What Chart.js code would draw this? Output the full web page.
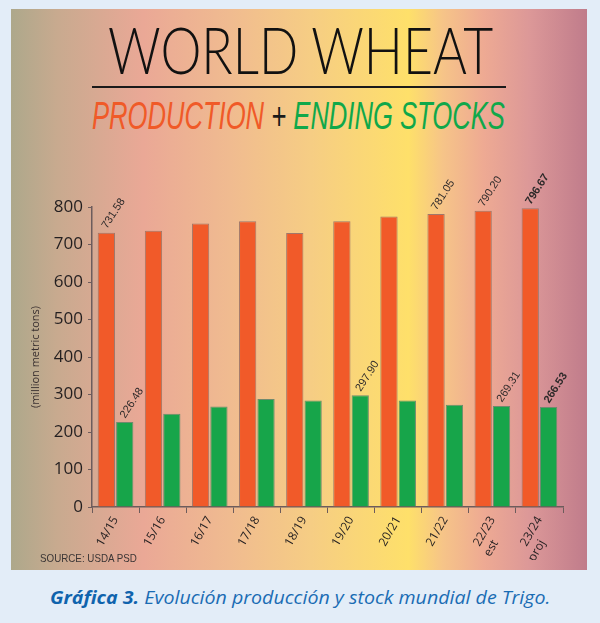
<!DOCTYPE html>
<html>
<head>
<meta charset="utf-8">
<script src="https://cdn.jsdelivr.net/npm/chart.js@4.4.0/dist/chart.umd.min.js"></script>
<style>
  html, body { margin: 0; padding: 0; }
  body { width: 600px; height: 623px; background: #e3edf8; position: relative; overflow: hidden; }
  #panel {
    position: absolute; left: 11px; top: 9px; width: 576px; height: 561px;
    background: linear-gradient(to right, #ada88b 0%, #c8aa8f 8%, #eaa896 23%, #f0bb90 38%,
      #f6cd84 52%, #fee06a 69%, #f6c488 75%, #eeaa93 82%, #dc9898 90%, #c07c8b 100%);
  }
  .fit { position: absolute; white-space: nowrap; line-height: 1; display: inline-block; transform-origin: left top; }
  #title { left: 108px; top: 16px; font-family: Lato, "Open Sans", sans-serif; font-weight: 300; font-size: 66px; color: #111; }
  #rule { position: absolute; left: 92px; top: 86px; width: 414px; height: 2px; background: #1a1a1a; }
  #subtitle { left: 92px; top: 97px; font-family: "Liberation Sans Narrow", "Liberation Sans", Arial, sans-serif; font-style: italic; font-size: 38px; }
  #subtitle .prod { color: #f05a28; }
  #subtitle .plus { color: #1a1a1a; }
  #subtitle .stock { color: #10a84a; }
  #chartBox { position: absolute; left: 11px; top: 140px; width: 576px; height: 420px; }
  #source { left: 40px; top: 553px; font-family: "Liberation Sans Narrow", "Liberation Sans", Arial, sans-serif; font-size: 11px; color: #3a3535; }
  #caption { left: 50px; top: 588px; font-family: "Open Sans", sans-serif; font-style: italic; font-size: 18px; color: #1a6cb4; }
  #caption b { font-weight: 700; color: #0f63ad; }
</style>
</head>
<body>
<div id="panel"></div>
<div id="title" class="fit">WORLD WHEAT</div>
<div id="rule"></div>
<div id="subtitle" class="fit"><span class="prod">PRODUCTION</span> <span class="plus">+</span> <span class="stock">ENDING STOCKS</span></div>
<div id="chartBox"><canvas id="wheatChart" width="576" height="420"></canvas></div>
<div id="source" class="fit">SOURCE: USDA PSD</div>
<div id="caption" class="fit"><b>Gráfica 3.</b> Evolución producción y stock mundial de Trigo.</div>

<script>
// marketing years (multi-line where the source has a note)
const seasons = [['14/15'], ['15/16'], ['16/17'], ['17/18'], ['18/19'], ['19/20'], ['20/21'], ['21/22'], ['22/23', 'est'], ['23/24', 'proj']];
const production = [731.58, 737, 756, 762, 731, 762, 775, 781.05, 790.20, 796.67];
const endingStocks = [226.48, 249, 268, 288, 284, 297.90, 284, 273, 269.31, 266.53];
const yTicks = [0, 100, 200, 300, 400, 500, 600, 700, 800];
// which bars carry a value label in the original
const productionLabelled = [0, 7, 8, 9];
const stocksLabelled = [0, 5, 8, 9];

// squeeze the html headings to the widths of the original artwork
function fitWidth(id, w) {
    const el = document.getElementById(id);
    const r = el.offsetWidth;
    el.style.transform = 'scaleX(' + (w / r) + ')';
}
fitWidth('title', 385);
fitWidth('subtitle', 413);
fitWidth('source', 97);
fitWidth('caption', 500);

// rotated value labels above selected bars
const valueLabels = {
    id: 'valueLabels',
    afterDatasetsDraw(chart) {
        const ctx = chart.ctx;
        const picks = [productionLabelled, stocksLabelled];
        picks.forEach((idxs, di) => {
            const meta = chart.getDatasetMeta(di);
            idxs.forEach(i => {
                const bar = meta.data[i];
                const v = chart.data.datasets[di].data[i];
                ctx.save();
                ctx.translate(bar.x - 2, bar.y - 5);
                ctx.rotate(-57 * Math.PI / 180);
                ctx.font = (i === 9 ? 'bold ' : '') + '11px "Liberation Sans", Arial, sans-serif';
                ctx.fillStyle = '#2e2a2a';
                ctx.textAlign = 'left';
                ctx.textBaseline = 'middle';
                ctx.fillText(v.toFixed(2), 0, 0);
                ctx.restore();
            });
        });
    }
};

const axisColor = '#6d5c5c';
const ctx = document.getElementById('wheatChart').getContext('2d');
const chart = new Chart(ctx, {
    type: 'bar',
    data: {
        labels: seasons,
        datasets: [{
            label: 'Production',
            data: production,
            backgroundColor: '#f15a29',
            borderColor: '#a0786a',
            borderWidth: 1,
            barPercentage: 0.94,
            categoryPercentage: 0.78
        }, {
            label: 'Ending stocks',
            data: endingStocks,
            backgroundColor: '#17a54a',
            borderColor: '#6f8a6e',
            borderWidth: 1,
            barPercentage: 0.94,
            categoryPercentage: 0.78
        }]
    },
    options: {
        responsive: false,
        animation: false,
        layout: {
            padding: { top: 67, right: 24, left: 0, bottom: 0 }
        },
        plugins: {
            legend: { display: false },
            tooltip: { enabled: false }
        },
        scales: {
            x: {
                afterFit: s => { s.height = 53; },
                grid: {
                    display: true,
                    drawOnChartArea: false,
                    tickLength: 6,
                    color: axisColor
                },
                border: { color: axisColor, width: 1.5 },
                ticks: {
                    minRotation: 60,
                    maxRotation: 60,
                    padding: 1,
                    color: '#231f20',
                    font: { family: '"Open Sans", sans-serif', size: 12 },
                    // keep the note line under the start of the season, as in the original
                    callback: function (value) {
                        const lab = this.getLabelForValue(value);
                        return lab.length > 1 ? [lab[0], lab[1] + '      '] : lab;
                    }
                }
            },
            y: {
                min: 0,
                max: 800,
                afterFit: s => { s.width = 81; },
                afterBuildTicks: s => { s.ticks = yTicks.map(v => ({ value: v })); },
                grid: {
                    display: true,
                    drawOnChartArea: false,
                    tickLength: 4,
                    color: axisColor
                },
                border: { color: axisColor, width: 1.5 },
                ticks: {
                    padding: 5,
                    color: '#231f20',
                    font: { family: '"Open Sans", sans-serif', size: 17 }
                },
                title: {
                    display: true,
                    text: '(million metric tons)',
                    color: '#3a3030',
                    padding: { top: 18, bottom: 0 },
                    font: { family: '"Open Sans", sans-serif', size: 11 }
                }
            }
        }
    },
    plugins: [valueLabels]
});
</script>
</body>
</html>
